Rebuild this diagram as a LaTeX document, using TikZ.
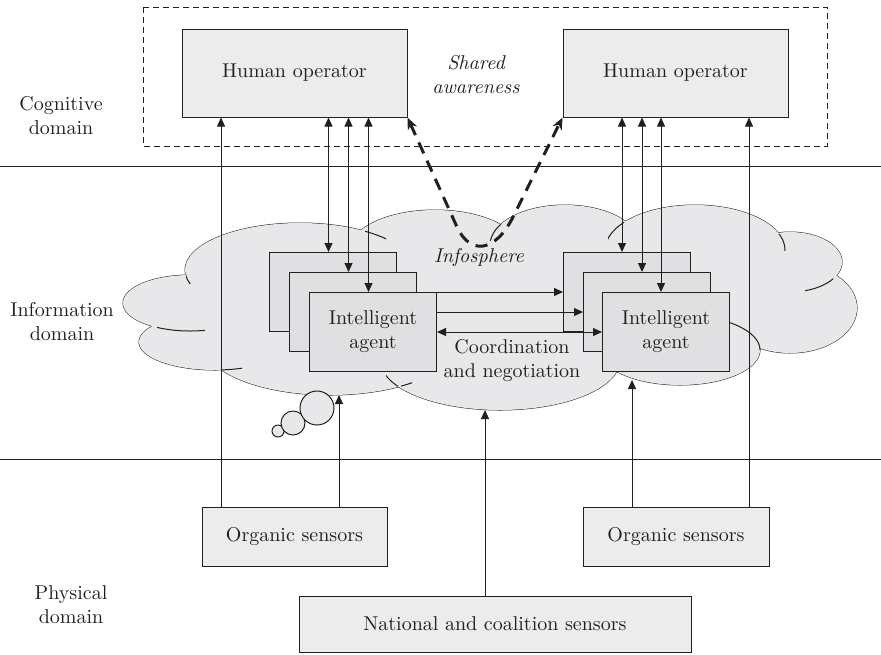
\documentclass[tikz,border=0pt]{standalone}
\usepackage{tikz}
\usetikzlibrary{arrows.meta}

\definecolor{ink}{RGB}{35,31,32}
\definecolor{boxgray}{RGB}{236,236,236}
\definecolor{agentgray}{RGB}{224,224,226}
\definecolor{cloudgray}{RGB}{232,232,234}

\tikzset{
  opbox/.style={draw=ink,fill=boxgray,line width=0.5pt,minimum width=112.5pt,minimum height=44pt,inner sep=0pt,text=ink},
  agentbox/.style={draw=ink,fill=agentgray,line width=0.5pt,minimum width=63.5pt,minimum height=39.5pt,inner sep=0pt,align=center,text=ink},
  sensorbox/.style={draw=ink,fill=boxgray,line width=0.5pt,minimum height=29.5pt,inner sep=0pt,text=ink},
  link/.style={draw=ink,line width=0.5pt},
  aware/.style={draw=ink,line width=1.5pt,dash pattern=on 6pt off 4pt,
    {Stealth[length=6pt,width=5pt]}-{Stealth[length=6pt,width=5pt]}},
  lobe/.style={draw=ink,fill=cloudgray,line width=0.5pt},
  domlabel/.style={align=center,text=ink}
}

\begin{document}
\begin{tikzpicture}[x=0.5pt,y=-0.5pt,>={Triangle[length=4.5pt,width=4pt]}]
  \useasboundingbox (0,0) rectangle (881,654);

  % domain separators and the cognitive domain frame
  \draw[link] (0,166) -- (881,166);
  \draw[link] (0,459) -- (881,459);
  \draw[link,dash pattern=on 3pt off 2pt] (143,7) rectangle (827,146);

  % infosphere cloud: outlined lobes, then filled again to hide inner strokes
  \foreach \cx/\cy/\rx/\ry in {300/270/115/47, 190/303/67/28, 215/342/76/28,
      330/345/125/50, 500/360/120/50, 680/350/80/35, 790/308/67/45,
      790/262/52/30, 695/250/90/45, 565/245/75/40, 435/250/85/40}
    \draw[lobe] (\cx,\cy) ellipse [x radius=\rx, y radius=\ry];
  \foreach \cx/\cy/\rx/\ry in {300/270/115/47, 190/303/67/28, 215/342/76/28,
      330/345/125/50, 500/360/120/50, 680/350/80/35, 790/308/67/45,
      790/262/52/30, 695/250/90/45, 565/245/75/40, 435/250/85/40}
    \fill[cloudgray] (\cx,\cy) ellipse [x radius=\rx, y radius=\ry];
  \fill[cloudgray] (250,255) rectangle (740,365);
  % short overlap strokes between lobes
  \foreach \cx/\cy/\rx/\ry/\xa/\ya/\xb/\yb in {
      300/270/115/47/365/226/386/241, 300/270/115/47/186/273/197/283,
      190/303/67/28/157/320/205/336, 215/342/76/28/222/360/242/376,
      330/345/125/50/401/378/412/394, 500/360/120/50/386/375/398/390,
      680/350/80/35/730/315/762/349, 790/262/52/30/805/276/833/295,
      695/250/90/45/778/234/787/250, 695/250/90/45/608/218/624/240,
      565/245/75/40/490/222/501/240}{
    \begin{scope}
      \clip (\xa,\ya) rectangle (\xb,\yb);
      \draw[link] (\cx,\cy) ellipse [x radius=\rx, y radius=\ry];
    \end{scope}
  }
  \foreach \bx/\by/\br in {278/431/6, 293/423/12, 317/408/17}
    \draw[lobe] (\bx,\by) circle [radius=\br];

  % operators, agents and sensors
  \node[opbox] (opL) at (294.5,73) {Human operator};
  \node[opbox] (opR) at (675.5,73) {Human operator};
  \node[agentbox] (agL3) at (333,292) {};
  \node[agentbox] (agL2) at (353,312) {};
  \node[agentbox] (agL1) at (373,332) {Intelligent\\agent};
  \node[agentbox] (agR3) at (627,292) {};
  \node[agentbox] (agR2) at (647,312) {};
  \node[agentbox] (agR1) at (666,332) {Intelligent\\agent};
  \node[sensorbox,minimum width=92.5pt] (orgL) at (294.5,536.5) {Organic sensors};
  \node[sensorbox,minimum width=93pt] (orgR) at (676,536.5) {Organic sensors};
  \node[sensorbox,minimum width=196pt,minimum height=28pt] (natl) at (495,624) {National and coalition sensors};

  \node[text=ink,font=\itshape,align=center] (shared) at (476,75) {Shared\\awareness};
  \node[text=ink,font=\itshape] (info) at (479,257) {Infosphere};
  \node[text=ink,align=center] (coord) at (512,360) {Coordination\\and negotiation};

  \node[domlabel] (cog) at (61,116) {Cognitive\\domain};
  \node[domlabel] (inf) at (62,322) {Information\\domain};
  \node[domlabel] (phy) at (71,605) {Physical\\domain};

  % operator <-> agent links
  \foreach \a in {agL3,agL2,agL1}{
    \coordinate (t) at ([xshift=-2.25pt]\a.north);
    \draw[link,<->] (t) -- (t |- opL.south);
  }
  \foreach \a in {agR3,agR2,agR1}{
    \coordinate (t) at ([xshift=-2.5pt]\a.north);
    \draw[link,<->] (t) -- (t |- opR.south);
  }

  % agent to agent
  \draw[link,->] (agL1.north east) -- (agL1.north east -| agR3.west);
  \draw[link,->] (agL1.east |- agR2.center) -- (agR2.west);
  \draw[link,<->] (agL1.east) -- (agR1.west);

  % sensor feeds
  \coordinate (s1) at ([xshift=-36.75pt]orgL.north);
  \coordinate (s2) at ([xshift=22.25pt]orgL.north);
  \coordinate (s3) at ([xshift=-5pt]natl.north);
  \coordinate (s4) at ([xshift=-22pt]orgR.north);
  \coordinate (s5) at ([xshift=36.5pt]orgR.north);
  \coordinate (c2) at (339,395);
  \coordinate (c3) at (485,410);
  \coordinate (c4) at (632,380);
  \draw[link,->] (s1) -- (s1 |- opL.south);
  \draw[link,->] (s2) -- (s2 |- c2);
  \draw[link,->] (s3) -- (s3 |- c3);
  \draw[link,->] (s4) -- (s4 |- c4);
  \draw[link,->] (s5) -- (s5 |- opR.south);

  % shared awareness through the infosphere
  \draw[aware] (opL.south east) -- (457,227) .. controls (470,255) and (495,253) .. (513,217) -- (opR.south west);
\end{tikzpicture}
\end{document}
